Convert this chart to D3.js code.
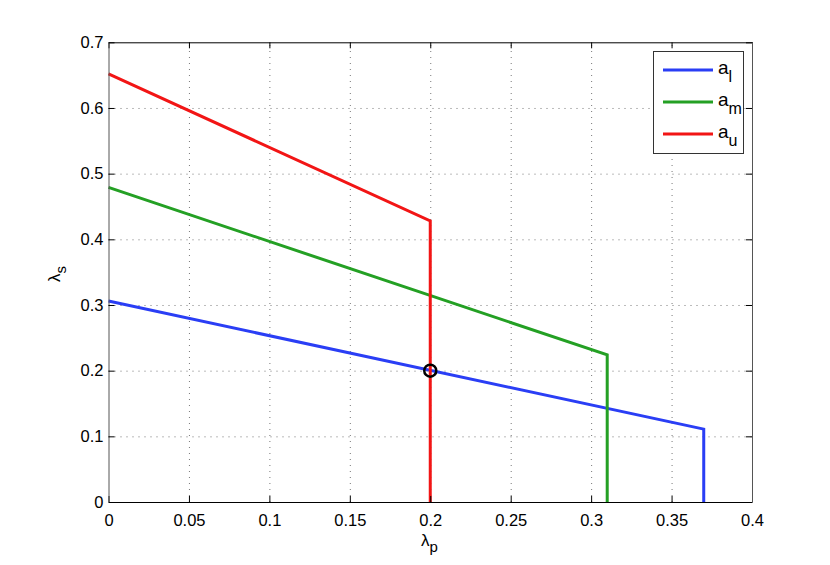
<!DOCTYPE html>
<html><head><meta charset="utf-8">
<script src="https://cdn.jsdelivr.net/npm/d3@7"></script>
<style>
body{margin:0;background:#fff;}
svg{display:block;font-family:"Liberation Sans",Arial,Helvetica,sans-serif;}
</style></head>
<body><svg id="c" width="830" height="565"></svg>
<script>
// ---- data ----
const seriesNames = ["a_l", "a_m", "a_u"];
const seriesSubs = ["l", "m", "u"];
const seriesColors = ["#2a3ef5", "#24a024", "#f21515"];
const xL = [0, 0.37, 0.37];
const yL = [0.306, 0.111, 0];
const xM = [0, 0.31, 0.31];
const yM = [0.479, 0.224, 0];
const xU = [0, 0.2, 0.2];
const yU = [0.652, 0.428, 0];
const markerX = [0.2];
const markerY = [0.2];
const xTicks = [0, 0.05, 0.1, 0.15, 0.2, 0.25, 0.3, 0.35, 0.4];
const yTicks = [0, 0.1, 0.2, 0.3, 0.4, 0.5, 0.6, 0.7];

const margin = {left:108.5, top:42.3, right:830-752, bottom:565-502};
const W = 830, H = 565;
const w = W - margin.left - margin.right, h = H - margin.top - margin.bottom;
const svg = d3.select("#c");
const g = svg.append("g").attr("transform", `translate(${margin.left},${margin.top})`);
const x = d3.scaleLinear().domain([0, 0.4]).range([0, w]);
const y = d3.scaleLinear().domain([0, 0.7]).range([h, 0]);

const fmt = d => d === 0 ? "0" : String(+d.toFixed(2));

// grid
const gx = g.append("g").attr("transform", `translate(0,${h})`)
  .call(d3.axisBottom(x).tickValues(xTicks.slice(1, -1)).tickSize(-h).tickFormat(""));
const gy = g.append("g")
  .call(d3.axisLeft(y).tickValues(yTicks.slice(1, -1)).tickSize(-w).tickFormat(""));
[gx, gy].forEach(s => {
  s.select(".domain").remove();
  s.selectAll("line").attr("stroke", "#777").attr("stroke-width", 1).attr("stroke-dasharray", "1,5");
});

// series
const line = d3.line().x(d => x(d[0])).y(d => y(d[1]));
const sets = [[xL, yL], [xM, yM], [xU, yU]];
sets.forEach((s, i) => {
  const pts = s[0].map((v, j) => [v, s[1][j]]);
  g.append("path").attr("d", line(pts)).attr("fill", "none")
    .attr("stroke", seriesColors[i]).attr("stroke-width", 3).attr("stroke-linejoin", "miter");
});

// marker
g.selectAll(".mk").data(markerX.map((v, i) => [v, markerY[i]])).enter().append("circle")
  .attr("cx", d => x(d[0])).attr("cy", d => y(d[1])).attr("r", 6)
  .attr("fill", "none").attr("stroke", "#000").attr("stroke-width", 2.5);

// axes
const styleAx = (s) => {
  s.selectAll("text").attr("font-size", 16.5).attr("fill", "#000").attr("font-family", "Liberation Sans, Arial, sans-serif");
  s.selectAll("line").attr("stroke", "#000");
  s.select(".domain").attr("stroke", "#000");
};
const ab = g.append("g").attr("transform", `translate(0,${h})`)
  .call(d3.axisBottom(x).tickValues(xTicks).tickSizeInner(-6).tickSizeOuter(0).tickPadding(12).tickFormat(fmt));
styleAx(ab);
const at = g.append("g")
  .call(d3.axisTop(x).tickValues(xTicks).tickSizeInner(-6).tickSizeOuter(0).tickFormat(""));
styleAx(at);
const al = g.append("g")
  .call(d3.axisLeft(y).tickValues(yTicks).tickSizeInner(-6).tickSizeOuter(0).tickPadding(5).tickFormat(fmt));
styleAx(al);
al.select(".domain").attr("stroke", "#555");
const ar = g.append("g").attr("transform", `translate(${w},0)`)
  .call(d3.axisRight(y).tickValues(yTicks).tickSizeInner(-6).tickSizeOuter(0).tickFormat(""));
styleAx(ar);
ar.select(".domain").attr("stroke", "#555");

// axis labels
const xl = svg.append("text").attr("x", 421).attr("y", 546).attr("font-size", 17);
xl.append("tspan").text("λ");
xl.append("tspan").attr("font-size", 15).attr("dy", 6).text("p");
const yl = svg.append("text").attr("transform", "translate(60,282) rotate(-90)").attr("font-size", 17);
yl.append("tspan").text("λ");
yl.append("tspan").attr("font-size", 15).attr("dy", 6).text("s");

// legend
const lg = svg.append("g");
lg.append("rect").attr("x", 653.5).attr("y", 51.5).attr("width", 90).attr("height", 102)
  .attr("fill", "#fff").attr("stroke", "#333").attr("stroke-width", 1);
seriesNames.forEach((n, i) => {
  const yy = 70 + i * 32;
  lg.append("line").attr("x1", 663).attr("x2", 713).attr("y1", yy).attr("y2", yy)
    .attr("stroke", seriesColors[i]).attr("stroke-width", 3);
  const t = lg.append("text").attr("x", 718).attr("y", yy + 4).attr("font-size", 19);
  t.append("tspan").text("a");
  t.append("tspan").attr("font-size", 16).attr("dy", 8).text(seriesSubs[i]);
});
</script></body></html>
